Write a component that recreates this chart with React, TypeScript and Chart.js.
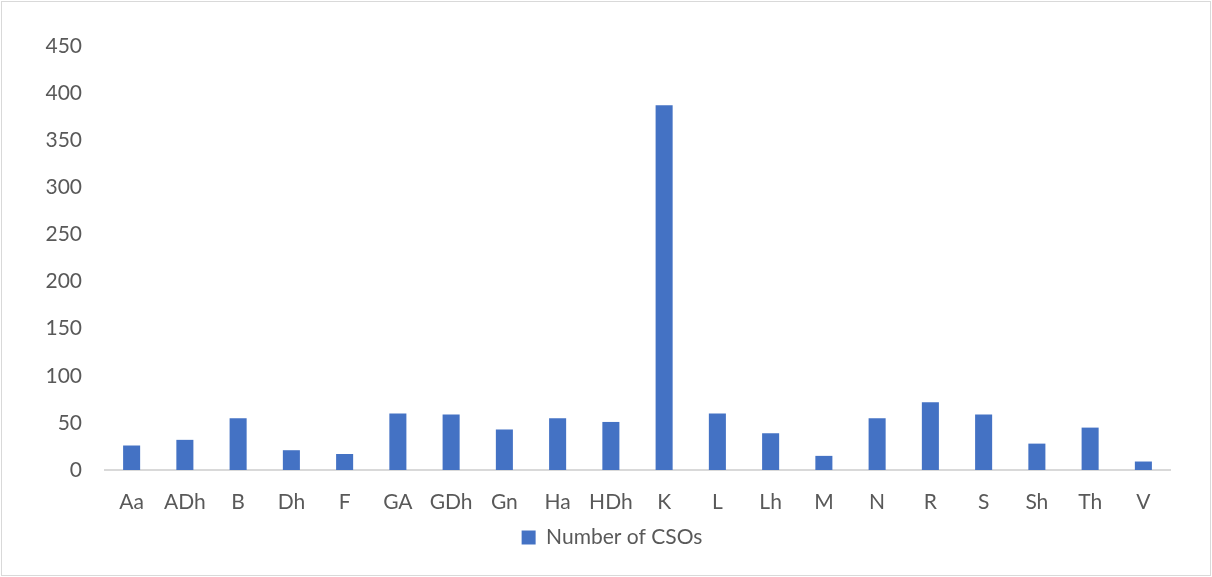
import React, { useEffect, useRef } from "react";
import { Chart, registerables } from "chart.js";

Chart.register(...registerables);

const categories = ["Aa", "ADh", "B", "Dh", "F", "GA", "GDh", "Gn", "Ha", "HDh", "K", "L", "Lh", "M", "N", "R", "S", "Sh", "Th", "V"];
const csoCounts = [26, 32, 55, 21, 17, 60, 59, 43, 55, 51, 387, 60, 39, 15, 55, 72, 59, 28, 45, 9];
const seriesLabel = "Number of CSOs";
const yMin = 0;
const yMax = 450;
const yStep = 50;

const legendShift = {
  id: "legendShift",
  afterLayout(chart: any) {
    const lg = chart.legend;
    if (lg) {
      lg.left += 27;
      lg.right += 27;
    }
  },
};

export default function App() {
  const canvasRef = useRef<HTMLCanvasElement | null>(null);

  useEffect(() => {
    document.body.style.margin = "0";
    const canvas = canvasRef.current;
    if (!canvas) return;
    const font = { family: "Lato, 'Open Sans', sans-serif", size: 21 };
    const chart = new Chart(canvas, {
      type: "bar",
      data: {
        labels: categories,
        datasets: [
          {
            label: seriesLabel,
            data: csoCounts,
            backgroundColor: "#4472C4",
            borderWidth: 0,
            barPercentage: 0.32,
            categoryPercentage: 1,
          },
        ],
      },
      plugins: [legendShift],
      options: {
        responsive: false,
        animation: false,
        maintainAspectRatio: false,
        layout: { padding: { top: 46, right: 42, bottom: 19, left: 0 } },
        plugins: {
          tooltip: { enabled: false },
          legend: {
            position: "bottom",
            labels: {
              color: "#595959",
              font,
              boxWidth: 14,
              boxHeight: 14,
              padding: 10,
            },
          },
        },
        scales: {
          x: {
            grid: { display: false, drawTicks: false },
            border: { display: true, color: "#d9d9d9", width: 2 },
            ticks: { color: "#595959", font, padding: 20, maxRotation: 0, autoSkip: false },
            afterFit: (scale: any) => {
              scale.height = 47;
            },
          },
          y: {
            min: yMin,
            max: yMax,
            grid: { display: false, drawTicks: false },
            border: { display: false },
            ticks: { color: "#595959", font, padding: 23, stepSize: yStep },
            afterFit: (scale: any) => {
              scale.width = 105;
            },
          },
        },
      },
    });
    return () => chart.destroy();
  }, []);

  return (
    <div style={{ position: "fixed", left: 0, top: 0, width: 1212, height: 577, background: "#fff" }}>
      <div
        style={{
          position: "absolute",
          left: 1,
          top: 1,
          width: 1208,
          height: 573,
          border: "1px solid #d9d9d9",
          boxSizing: "content-box",
        }}
      />
      <canvas ref={canvasRef} width={1212} height={577} style={{ position: "absolute", left: 0, top: 0 }} />
    </div>
  );
}
